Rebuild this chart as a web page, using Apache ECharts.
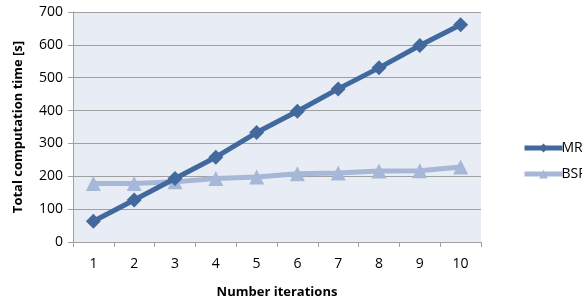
<!DOCTYPE html>
<html>
<head>
<meta charset="utf-8">
<script src="https://cdn.jsdelivr.net/npm/echarts@6/dist/echarts.min.js"></script>
<style>
  html, body { margin: 0; padding: 0; background: #fff; }
  #chart { width: 582px; height: 304px; }
</style>
</head>
<body>
<div id="chart"></div>
<script>
// iterations on the x axis
var iterations = ['1', '2', '3', '4', '5', '6', '7', '8', '9', '10'];
// total computation time [s]
var mrValues = [63, 128, 193, 258, 333, 398, 466, 530, 598, 661];
var bspValues = [178, 178, 183, 193, 198, 208, 210, 216, 217, 228];

var FONT = 'Open Sans';

var myChart = echarts.init(document.getElementById('chart'));
myChart.setOption({
  animation: false,
  textStyle: { fontFamily: FONT },
  grid: {
    left: 73,
    right: 101,
    top: 12,
    bottom: 58,
    show: true,
    backgroundColor: '#e8ecf4',
    borderWidth: 0
  },
  legend: {
    orient: 'vertical',
    left: 517,
    top: 136,
    itemWidth: 38,
    itemHeight: 11,
    itemGap: 12,
    lineStyle: { width: 5 },
    itemStyle: { borderWidth: 0 },
    textStyle: { fontFamily: FONT, fontSize: 14, color: '#000', padding: [0, 0, 0, -6] },
    data: ['MR', 'BSP']
  },
  xAxis: {
    type: 'category',
    data: iterations,
    boundaryGap: true,
    name: 'Number iterations',
    nameLocation: 'middle',
    nameGap: 44,
    nameTextStyle: { fontFamily: FONT, fontWeight: 'bold', fontSize: 13, color: '#000' },
    axisLine: { lineStyle: { color: '#a0a0a0' } },
    axisTick: { show: true, length: 5, lineStyle: { color: '#a0a0a0' } },
    axisLabel: { fontFamily: FONT, fontSize: 14, color: '#000', margin: 15 },
    splitLine: { show: false }
  },
  yAxis: {
    type: 'value',
    min: 0,
    max: 700,
    interval: 100,
    name: 'Total computation time [s]',
    nameLocation: 'middle',
    nameGap: 48,
    nameTextStyle: { fontFamily: FONT, fontWeight: 'bold', fontSize: 13, color: '#000' },
    axisLine: { show: true, lineStyle: { color: '#a0a0a0' } },
    axisTick: { show: true, length: 5, lineStyle: { color: '#a0a0a0' } },
    axisLabel: { fontFamily: FONT, fontSize: 14, color: '#000', margin: 10 },
    splitLine: { lineStyle: { color: '#a0a0a0', width: 1 } }
  },
  series: [
    {
      name: 'MR',
      type: 'line',
      data: mrValues,
      symbol: 'diamond',
      symbolSize: 15,
      itemStyle: { color: '#41699e' },
      lineStyle: { color: '#41699e', width: 5 },
      z: 3
    },
    {
      name: 'BSP',
      type: 'line',
      data: bspValues,
      symbol: 'triangle',
      symbolSize: 15,
      itemStyle: { color: '#a7b7d8' },
      lineStyle: { color: '#a7b7d8', width: 5 },
      z: 2
    }
  ]
});
</script>
</body>
</html>
